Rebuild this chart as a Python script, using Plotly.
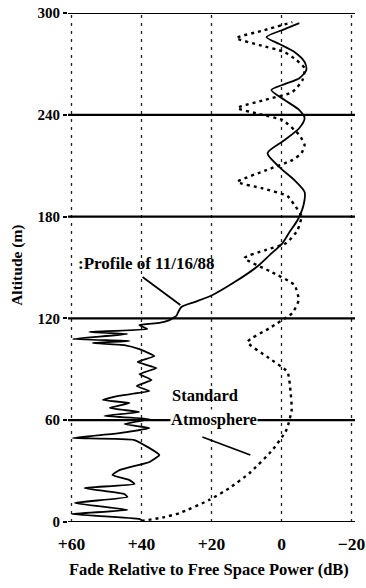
import plotly.graph_objects as go

# ---- axis ticks ----
x_ticks = [60, 40, 20, 0, -20]
x_tick_labels = ["+60", "+40", "+20", "0", "\u221220"]
y_ticks = [0, 60, 120, 180, 240, 300]
y_tick_labels = ["0", "60", "120", "180", "240", "300"]

# ---- Profile of 11/16/88 (solid), upper smooth part, top -> bottom ----
profile_upper_fade = [
    -5.1, -0.9, 4.3, 0.6, -3.7, -6.6, -7.1, -5.1, -0.9, 2.9, -0.9, -5.1, -6.6,
    -5.1, -0.9, 4.0, 0.6, -3.7, -6.6, -6.3, -4.6, -2.3, -0.3, 3.4, 7.1, 13.4,
    19.7, 24.9, 28.6, 30.0,
]
profile_upper_alt = [
    294.0, 290.5, 285.8, 281.7, 277.0, 271.1, 266.4, 261.6, 258.1, 254.6,
    248.7, 242.8, 238.1, 232.2, 225.1, 217.4, 209.2, 201.5, 194.5, 186.8,
    178.0, 170.9, 164.4, 157.3, 150.3, 141.4, 133.8, 129.6, 126.7, 121.4,
]
# ---- Profile of 11/16/88 (solid), lower turbulent part, top -> bottom ----
profile_lower_fade = [
    30.0, 32.0, 34.9, 40.6, 38.3, 54.9, 44.0, 59.7, 43.4, 54.0, 44.9, 40.6, 36.3,
    41.1, 35.7, 40.6, 37.1, 41.4, 37.7, 46.9, 51.1, 43.4, 49.1, 40.6, 50.6,
    37.7, 44.9, 37.7, 46.3, 59.7, 42.0, 34.9, 37.7, 46.3, 48.3, 43.4, 42.0,
    56.3, 44.9, 44.0, 59.1, 44.0, 60.0, 40.6, 39.7,
]
profile_lower_alt = [
    121.4, 119.0, 117.3, 116.1, 113.7, 112.0, 110.8, 107.8, 106.7, 105.5, 104.3,
    101.9, 97.8, 94.3, 90.7, 87.2, 83.7, 80.1, 77.2, 74.2, 71.9, 70.1, 67.2,
    64.8, 62.5, 60.7, 57.7, 55.4, 52.4, 49.5, 48.3, 39.5, 35.4, 30.6, 27.7,
    24.7, 22.4, 20.0, 16.5, 14.7, 11.2, 7.1, 4.7, 1.8, 0.6,
]

# ---- Standard Atmosphere (dotted), bottom -> top ----
std_fade = [
    40.0, 33.4, 29.1, 20.6, 14.9, 9.1, 2.6, -1.4, -2.9, -2.6, -1.7, 4.0, 9.7,
    3.4, -3.1, -4.9, -3.7, 3.4, 10.6, 4.6, -1.4, -4.6, -5.7, -3.7, -1.7, 5.7,
    12.6, 4.3, -3.1, -5.7, -6.6, -5.1, -0.3, 6.3, 12.6, 4.9, -3.1, -6.0, -6.6,
    -4.3, -0.9, 6.3, 12.9, 4.9, -3.1,
]
std_alt = [
    0.6, 2.9, 5.3, 13.0, 20.0, 28.9, 42.4, 54.2, 66.0, 76.6, 88.4, 97.2, 106.1,
    114.3, 123.2, 130.8, 139.7, 147.9, 155.6, 160.3, 164.4, 172.1, 180.3,
    186.8, 192.1, 196.8, 200.4, 207.4, 213.3, 217.4, 222.2, 228.1, 236.9,
    240.4, 244.0, 248.7, 253.4, 260.5, 267.5, 272.2, 277.0, 281.1, 285.2,
    289.9, 294.6,
]

SERIF = "Liberation Serif"

fig = go.Figure()

fig.add_trace(go.Scatter(
    x=std_fade, y=std_alt, mode="lines",
    line=dict(color="black", width=2.4, dash="3px,4px", shape="spline", smoothing=0.5),
    hoverinfo="skip", showlegend=False,
))
fig.add_trace(go.Scatter(
    x=profile_upper_fade, y=profile_upper_alt, mode="lines",
    line=dict(color="black", width=1.8, shape="spline", smoothing=0.7),
    hoverinfo="skip", showlegend=False,
))
fig.add_trace(go.Scatter(
    x=profile_lower_fade, y=profile_lower_alt, mode="lines",
    line=dict(color="black", width=1.8, shape="spline", smoothing=0.35),
    hoverinfo="skip", showlegend=False,
))

shapes = []
# vertical dashed gridlines
for xv in x_ticks:
    shapes.append(dict(type="line", xref="x", yref="paper", x0=xv, x1=xv, y0=0, y1=1,
                       line=dict(color="#222", width=1.3, dash="3px,5px"), layer="below"))
# horizontal solid lines
for yv in y_ticks:
    shapes.append(dict(type="line", xref="paper", yref="y", x0=0, x1=1, y0=yv, y1=yv,
                       line=dict(color="black", width=2.2), layer="below"))
# leader lines
shapes.append(dict(type="line", xref="x", yref="y", x0=39.7, y0=144.4, x1=28.9, y1=127.9,
                   line=dict(color="black", width=1.8)))
shapes.append(dict(type="line", xref="x", yref="y", x0=22.6, y0=50.1, x1=8.9, y1=39.5,
                   line=dict(color="black", width=1.8)))

annotations = [
    dict(text=":Profile of 11/16/88", x=58.6, y=152.6, xref="x", yref="y",
         xanchor="left", yanchor="middle", showarrow=False,
         font=dict(family=SERIF, size=17, color="black", weight="bold")),
    dict(text="Standard", x=32.0, y=74.8, xref="x", yref="y",
         xanchor="left", yanchor="middle", showarrow=False,
         font=dict(family=SERIF, size=16.5, color="black", weight="bold")),
    dict(text="Atmosphere", x=32.0, y=60.5, xref="x", yref="y",
         xanchor="left", yanchor="middle", showarrow=False, bgcolor="white",
         borderpad=0,
         font=dict(family=SERIF, size=16.5, color="black", weight="bold")),
    dict(text="Fade Relative to Free Space Power (dB)", x=0.49, y=-0.094,
         xref="paper", yref="paper", xanchor="center", yanchor="middle", showarrow=False,
         font=dict(family=SERIF, size=16.5, color="black", weight="bold")),
    dict(text="Altitude (m)", x=-0.178, y=0.505, xref="paper", yref="paper",
         xanchor="center", yanchor="middle", showarrow=False, textangle=-90,
         font=dict(family=SERIF, size=15.5, color="black", weight="bold")),
]

fig.update_layout(
    width=366, height=588, autosize=False,
    margin=dict(l=68, r=11, t=13, b=66),
    paper_bgcolor="white", plot_bgcolor="white",
    shapes=shapes, annotations=annotations,
    xaxis=dict(range=[61, -21], tickvals=x_ticks, ticktext=x_tick_labels,
               showgrid=False, zeroline=False, showline=False, automargin=False,
               ticks="outside", ticklen=6, tickcolor="rgba(0,0,0,0)",
               tickfont=dict(family=SERIF, size=17.5, color="black", weight="bold")),
    yaxis=dict(range=[0, 300], tickvals=y_ticks, ticktext=y_tick_labels,
               showgrid=False, zeroline=False, showline=False, automargin=False,
               ticks="outside", ticklen=4, tickwidth=1.5, tickcolor="black",
               tickfont=dict(family=SERIF, size=15, color="black", weight="bold")),
)

fig.write_html("out.html")
